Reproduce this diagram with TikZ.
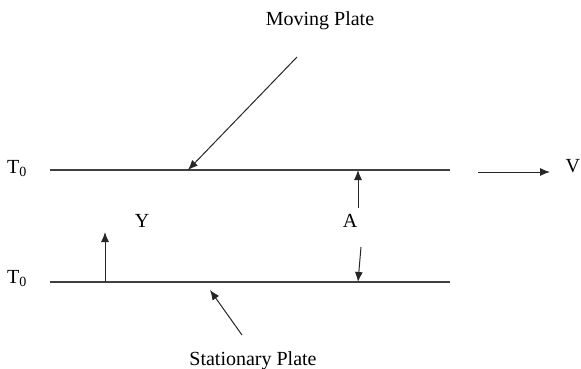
\documentclass[tikz,border=0pt]{standalone}
\usepackage{fontspec}
\setmainfont{Liberation Serif}
\usetikzlibrary{arrows.meta}

\begin{document}
\begin{tikzpicture}[x=1pt,y=-1pt,font=\fontsize{20}{24}\selectfont,
  plate/.style={line width=1.3pt,draw=black!75},
  pointer/.style={-{Latex[length=10pt,width=8pt]},line width=1pt,draw=black!85},
  lbl/.style={inner sep=0pt,anchor=base}]
  \useasboundingbox (0,0) rectangle (581,368);
  % plates
  \coordinate (topL) at (50,170);
  \coordinate (topR) at (450,170);
  \coordinate (botL) at (50,282);
  \coordinate (botR) at (450,282);
  \draw[plate] (topL) -- (topR);
  \draw[plate] (botL) -- (botR);
  \node[lbl] (Ttop) at (17,173) {T\textsubscript{0}};
  \node[lbl] (Tbot) at (17,283) {T\textsubscript{0}};
  % labels for the plates
  \node[lbl] (moving) at (320,25) {Moving Plate};
  \coordinate (movTail) at (297,57);
  \coordinate (movTip) at (188,170);
  \draw[pointer] (movTail) -- (movTip);
  \node[lbl] (stat) at (253,365) {Stationary Plate};
  \coordinate (statTail) at (242,335);
  \coordinate (statTip) at (210,290);
  \draw[pointer] (statTail) -- (statTip);
  % Y direction
  \coordinate (yFoot) at (105,282);
  \coordinate (yTip) at (105,232);
  \draw[pointer] (yFoot) -- (yTip);
  \node[lbl] (Y) at (142,227) {Y};
  % gap A
  \node[lbl] (A) at (350,227) {A};
  \coordinate (aTop) at (358,170);
  \coordinate (aBot) at (358,282);
  \draw[pointer] (358,208) -- (aTop);
  \draw[pointer] (361,247) -- (aBot);
  % velocity V
  \coordinate (vTail) at (478,172);
  \coordinate (vTip) at (550,172);
  \draw[pointer] (vTail) -- (vTip);
  \node[lbl,anchor=base west] (V) at (565.5,172) {V};
\end{tikzpicture}
\end{document}
